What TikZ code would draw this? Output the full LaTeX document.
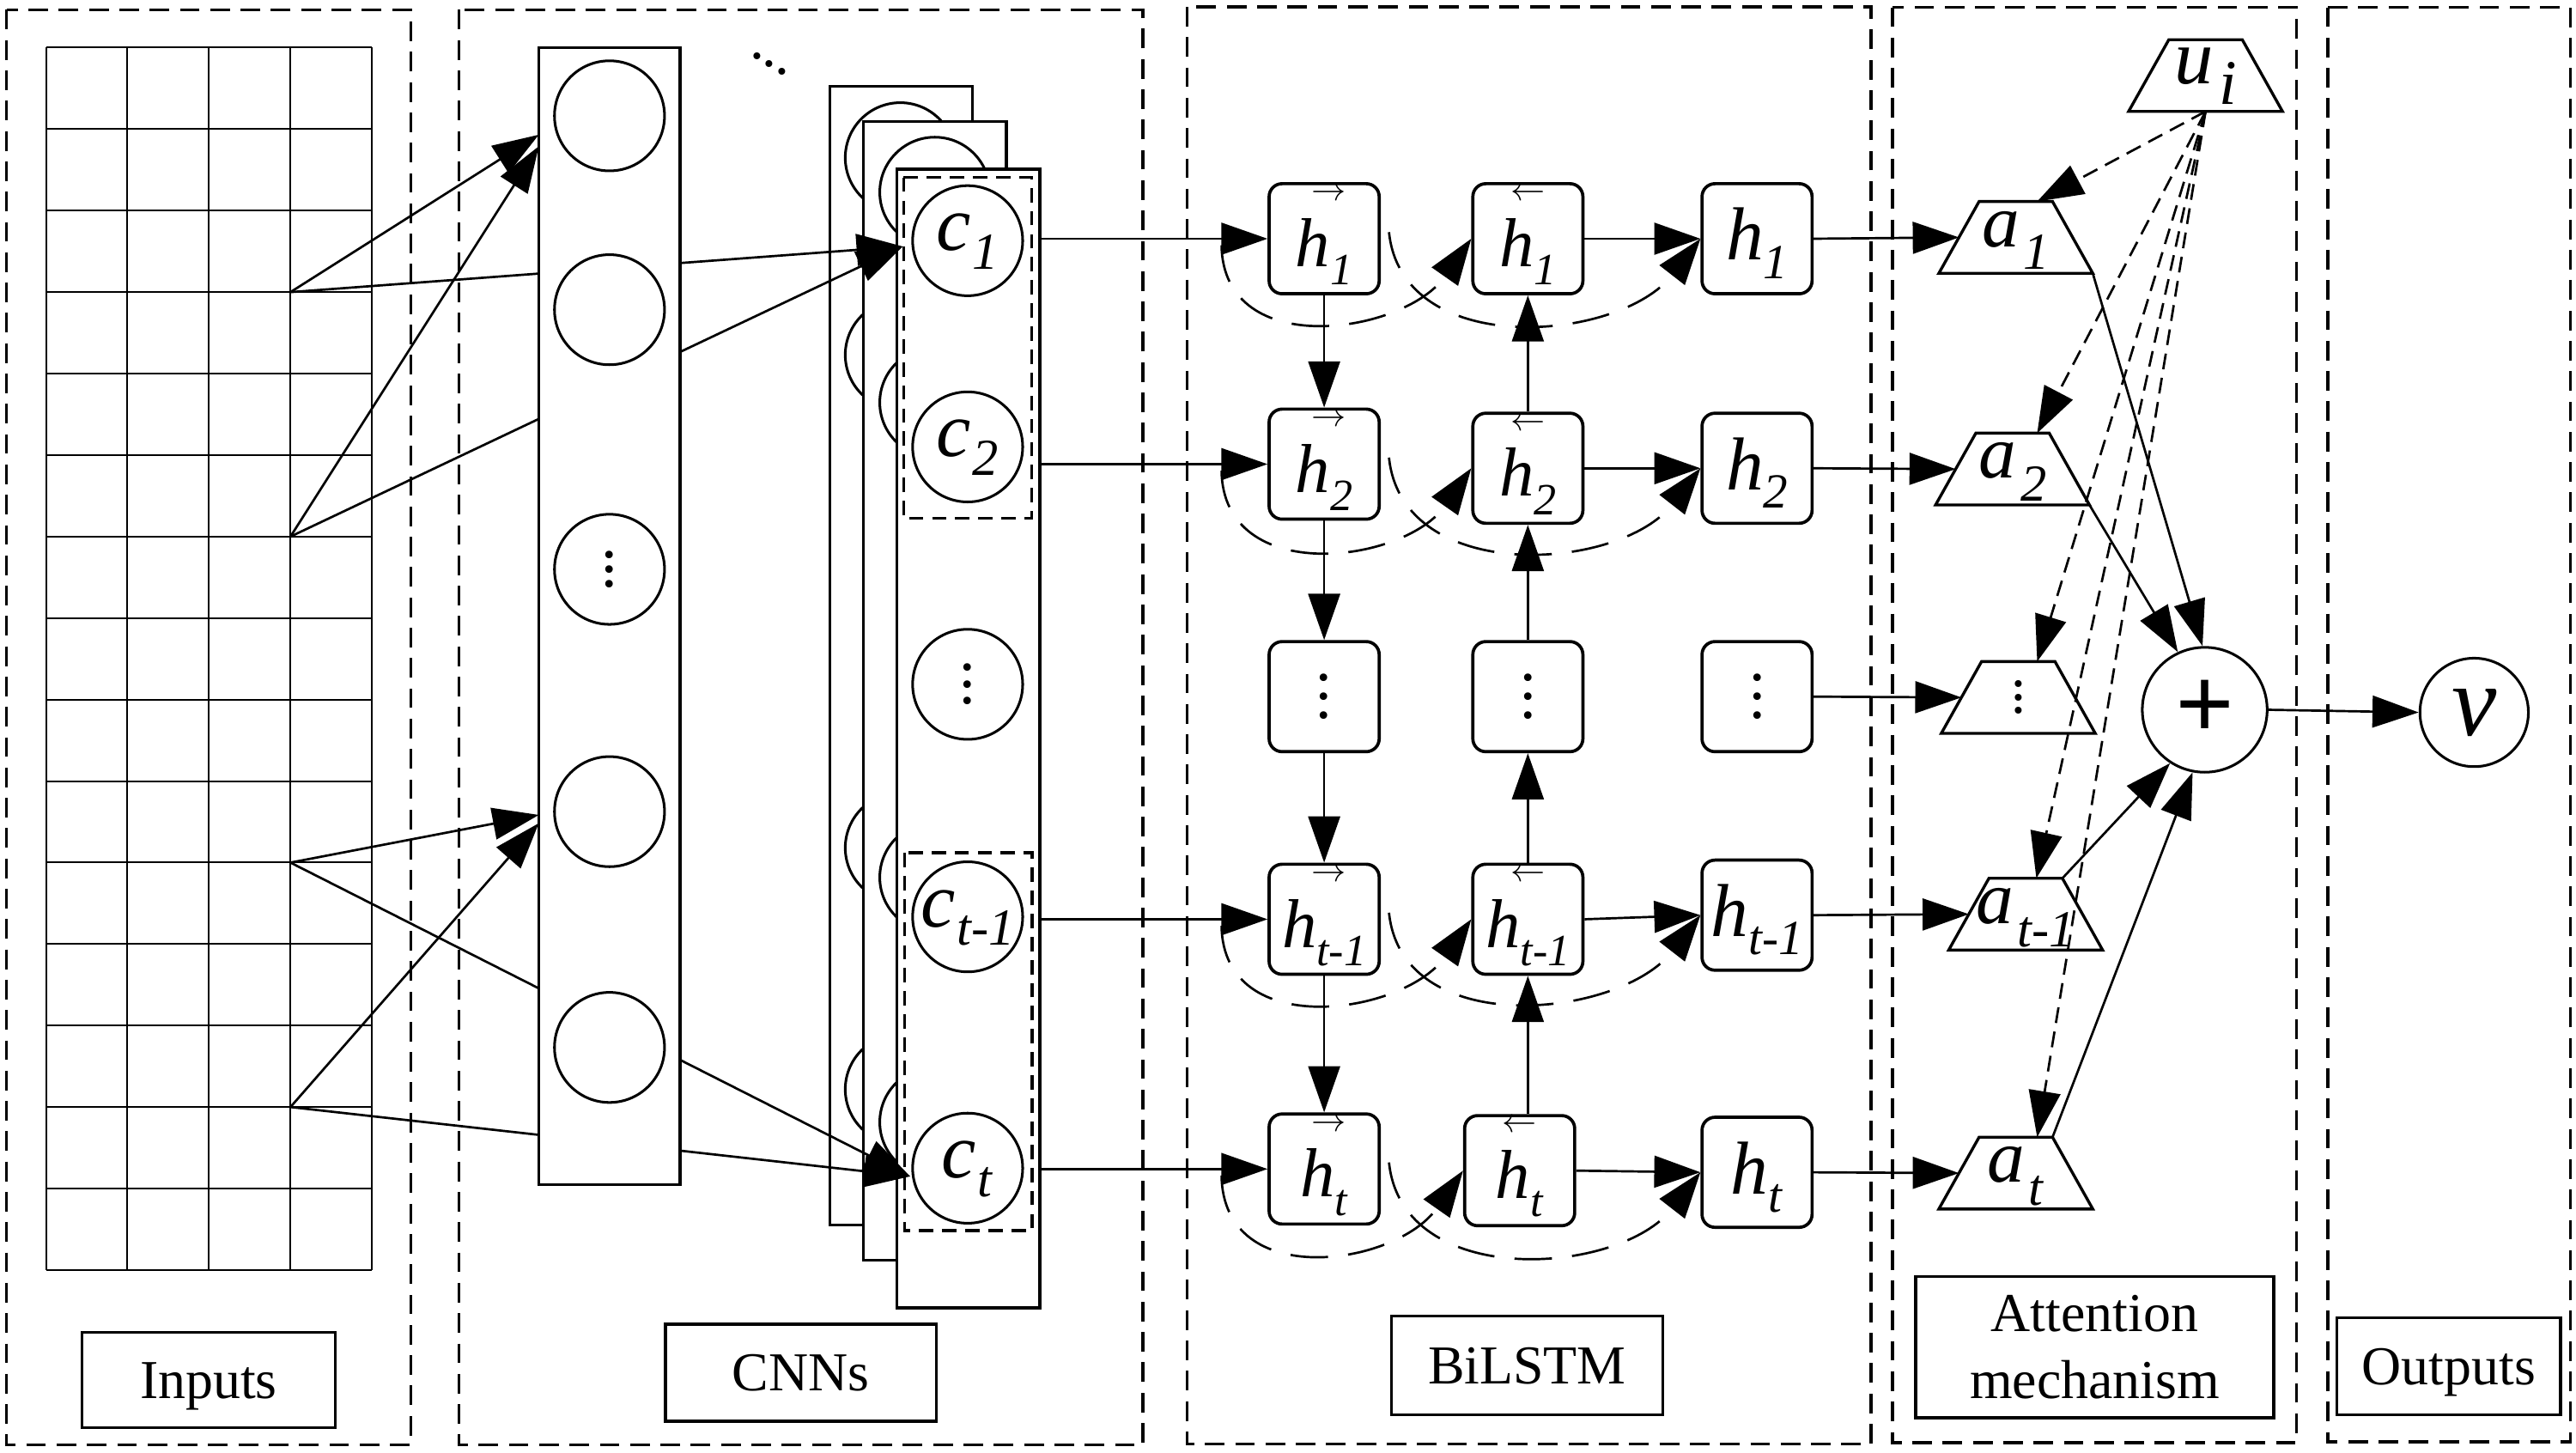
\documentclass[tikz,border=0pt]{standalone}
\usepackage{fontspec}
\setmainfont{Liberation Serif}
\usepackage{graphicx}
\usetikzlibrary{arrows.meta,calc}
\newcommand\fsz[1]{\fontsize{#1}{#1}\selectfont}
\newcommand\hab[1]{{\fsz{24}\textit{h}\raisebox{-6.3pt}{\fsz{15.5}\textit{#1}}}}
\newcommand\hcc[1]{{\fsz{26}\textit{h}\raisebox{-6.3pt}{\fsz{17}\textit{#1}}}}
\newcommand\cvar[1]{{\fsz{27}\textit{c}\kern0.5pt\raisebox{-6.4pt}{\fsz{18}\textit{#1}}}}
\newcommand\avar[1]{{\fsz{26}\textit{a}\kern1.5pt\raisebox{-8pt}{\fsz{18}\textit{#1}}}}
\newcommand\vdts[2]{{\fsz{#1}\vbox{\baselineskip=#2\lineskiplimit=-100pt\hbox{.}\hbox{.}\hbox{.}}}}
\newcommand\trapz[1]{\draw[tline] (#1.south west) -- (#1.south east) -- ($(#1.north east)+(-24.5,0)$) -- ($(#1.north west)+(24.5,0)$) -- cycle;}
\def\dpx{0.02cm}
\tikzset{
 arr/.style={line width=0.8pt,-{Triangle[length=16pt,width=11pt]}},
 darr/.style={arr,dash pattern=on 5.5pt off 3pt},
 lstmarc/.style={arr,dash pattern=on 13pt off 7pt},
 panel/.style={line width=1pt,dash pattern=on 6.8pt off 3.7pt},
 gdash/.style={line width=1pt,dash pattern=on 5pt off 3pt},
 gridln/.style={line width=0.6pt},
 tline/.style={line width=1pt},
 lbox/.style={draw,line width=1pt,inner sep=0pt,font={\fsz{19}}},
 lboxc/.style={lbox,text height=12.6pt,text depth=0pt},
 colbox/.style={draw,line width=1pt,fill=white,inner sep=0pt,minimum width=86*\dpx,minimum height=692*\dpx},
 mapbox/.style={draw,line width=1pt,fill=white,inner sep=0pt,minimum width=87*\dpx,minimum height=693*\dpx},
 neuron/.style={draw,circle,line width=0.9pt,fill=white,inner sep=0pt,minimum size=67*\dpx},
 cnode/.style={neuron,text height=8pt,text depth=1.2pt},
 cellbox/.style={draw,rounded corners=4.5pt,line width=1.1pt,inner sep=0pt,minimum width=67*\dpx,minimum height=67*\dpx},
 habox/.style={cellbox,text height=19.4pt,text depth=0pt},
 hcbox/.style={cellbox,text height=15pt,text depth=0.2pt},
 fwd/.style={habox,label={[anchor=center,inner sep=0pt,xshift=0.06cm,yshift=-0.15cm]90:\resizebox{0.42cm}{!}{$\rightarrow$}}},
 bwd/.style={habox,label={[anchor=center,inner sep=0pt,yshift=-0.15cm]90:\resizebox{0.42cm}{!}{$\leftarrow$}}},
 trap/.style={inner sep=0pt,minimum width=93*\dpx,minimum height=43*\dpx},
}
\begin{document}
\begin{tikzpicture}[x=0.02cm,y=-0.02cm]
\fill[white] (0,0) rectangle (1568,884.35);
\useasboundingbox (0,0) rectangle (1568,884.35);
% panels
\draw[panel] (4,6) rectangle (250,879.5);
\draw[panel] (279.3,6) rectangle (695.7,879.5);
\draw[panel] (722.7,4.2) rectangle (1138.8,879);
\draw[panel] (1152,4.5) rectangle (1398,878);
\draw[panel] (1417,4.5) rectangle (1564.5,877.6);
% label boxes
\node[lboxc,minimum width=154*\dpx,minimum height=58*\dpx] (linp) at (127,840) {Inputs};
\node[lboxc,minimum width=165*\dpx,minimum height=59*\dpx] (lcnn) at (487.5,835.5) {CNNs};
\node[lboxc,minimum width=165*\dpx,minimum height=60*\dpx] (llstm) at (929.5,831) {BiLSTM};
\node[lbox,minimum width=218*\dpx,minimum height=86*\dpx,align=center,font={\fontsize{19}{23.3}\selectfont}] (latt) at (1275,820) {Attention\\mechanism};
\node[lboxc,minimum width=136*\dpx,minimum height=59*\dpx] (lout) at (1490.5,831.5) {Outputs};
% grid
\foreach \i in {0,...,4} \draw[gridln] ({28+49.6*\i},29) -- ({28+49.6*\i},773);
\foreach \j in {0,...,15} \draw[gridln] (28,{29+49.6*\j}) -- (226.4,{29+49.6*\j});
\coordinate (p1) at (176.8,177.8);
\coordinate (p2) at (176.8,326.6);
\coordinate (p3) at (176.8,525);
\coordinate (p4) at (176.8,673.8);
% feature maps
\node[mapbox] (back) at (548.5,399) {};
\foreach \y [count=\k] in {96,216,516,663} \node[neuron] (bk\k) at (548,\y) {};
\node[mapbox] (mid) at (569,420.5) {};
\foreach \y [count=\k] in {117,245,534,683} \node[neuron] (mk\k) at (569,\y) {};
\node[mapbox] (front) at (589.5,449.5) {};
\node[cnode] (c1) at (589,146.5) {\cvar{1}};
\node[cnode] (c2) at (589,272) {\cvar{2}};
\node[neuron] (cd) at (589,416.5) {\vdts{22}{5.8pt}};
\node[cnode] (ct1) at (589,558) {\cvar{t-1}};
\node[cnode] (ct) at (589,711) {\cvar{t}};
\draw[gdash] (550,108) rectangle (628,315.5);
\draw[gdash] (550.5,519) rectangle (628.3,749);
\node[inner sep=0pt] (ddots) at (468.5,39) {\fsz{20}.\kern-0.7pt\raisebox{-2.6pt}{.}\kern-0.7pt\raisebox{-5.2pt}{.}};
% CNN connections
\coordinate (e1) at (328,82);
\coordinate (e2) at (328,89);
\coordinate (e3) at (328,496);
\coordinate (e4) at (328,501);
\coordinate (c1in) at (549.5,150);
\coordinate (ctin) at (554,716);
\draw[arr] (p1) -- (c1in);
\draw[arr] (p2) -- (c1in);
\draw[arr] (p3) -- (ctin);
\draw[arr] (p4) -- (ctin);
\draw[arr] (p1) -- (e1);
\draw[arr] (p2) -- (e2);
\draw[arr] (p3) -- (e3);
\draw[arr] (p4) -- (e4);
% first conv column
\node[colbox] (col1) at (371,375) {};
\node[neuron] (n1) at (371,70.5) {};
\node[neuron] (n2) at (371,188.5) {};
\node[neuron] (n3) at (371,346.5) {\vdts{22}{5pt}};
\node[neuron] (n4) at (371,494) {};
\node[neuron] (n5) at (371,637.5) {};
% BiLSTM cells
\node[fwd] (A1) at (806,145.3) {\hab{1}};
\node[bwd] (B1) at (930,145.3) {\hab{1}};
\node[hcbox] (C1) at (1069.5,145.3) {\hcc{1}};
\node[fwd] (A2) at (806,282.5) {\hab{2}};
\node[bwd] (B2) at (930,285) {\hab{2}};
\node[hcbox] (C2) at (1069.5,285) {\hcc{2}};
\node[cellbox] (A3) at (806,424) {\vdts{22}{6.5pt}};
\node[cellbox] (B3) at (930,424) {\vdts{22}{6.5pt}};
\node[cellbox] (C3) at (1069.5,424) {\vdts{22}{6.5pt}};
\node[fwd] (A4) at (806,559.5) {\hab{t-1}};
\node[bwd] (B4) at (930,559.5) {\hab{t-1}};
\node[hcbox] (C4) at (1069.5,557) {\hcc{t-1}};
\node[fwd] (A5) at (806,711.5) {\hab{t}};
\node[bwd] (B5) at (925,712.5) {\hab{t}};
\node[hcbox] (C5) at (1069.5,713.5) {\hcc{t}};
% inputs to forward cells
\foreach \r in {1,2,4,5} \draw[arr] (front.east |- A\r.west) -- (A\r.west);
% forward chain
\draw[arr] (A1.south) -- (A2.north);
\draw[arr] (A2.south) -- (A3.north);
\draw[arr] (A3.south) -- (A4.north);
\draw[arr] (A4.south) -- (A5.north);
% backward chain
\draw[arr] (B2.north) -- (B1.south);
\draw[arr] (B3.north) -- (B2.south);
\draw[arr] (B4.north) -- (B3.south);
\draw[arr] (B4.south |- B5.north) -- (B4.south);
% backward to output
\foreach \r in {1,2,4,5} \draw[arr] (B\r.east) -- (C\r.west);
% dashed arcs
\foreach \r in {1,2,4,5} {
 \draw[lstmarc] ($(A\r.west)+(-28,4)$) .. controls ($(A\r.west)+(-27,75)$) and ($(B\r.west)+(-40.5,58)$) .. (B\r.west);
 \draw[lstmarc] ($(A\r.east)+(5,-4)$) .. controls ($(A\r.east)+(13,74)$) and ($(C\r.west)+(-49,63)$) .. (C\r.west);
}
% attention
\node[trap,text height=10pt,text depth=4.3pt] (u) at (1342.5,46) {{\fsz{27}\textit{u}\kern2pt\raisebox{-7pt}{\fsz{22}\textit{i}}}};
\node[trap,text height=10pt,text depth=3.7pt] (a1) at (1227,144.5) {\avar{1}};
\node[trap,text height=10pt,text depth=3.7pt] (a2) at (1225,285.5) {\avar{2}};
\node[trap] (ad) at (1228.5,424.5) {\vdts{20}{4.6pt}};
\node[trap,text height=10pt,text depth=3.7pt] (att1) at (1233,556.4) {\avar{t-1}};
\node[trap,text height=10pt,text depth=3.7pt] (att) at (1227,714) {\avar{t}};
\foreach \n in {u,a1,a2,ad,att1,att} {\trapz{\n}}
\foreach \n in {a1,a2,ad,att1,att} \coordinate (\n l) at ($(\n.west)+(12.25,0)$);
\draw[arr] (C1.east) -- (a1l);
\draw[arr] (C2.east) -- (a2l);
\draw[arr] (C3.east) -- (adl);
\draw[arr] (C4.east) -- (att1l);
\draw[arr] (C5.east) -- (attl);
\node[draw,circle,line width=0.9pt,minimum size=76*\dpx,inner sep=0pt,font={\fsz{36}\bfseries}] (plus) at (1342,432) {+};
\node[draw,circle,line width=0.9pt,minimum size=66*\dpx,inner sep=0pt,font={\fsz{35}}] (v) at (1506,433.6) {\textit{v}};
\draw[arr] (a1.south east) -- (plus.92);
\draw[arr] (a2.south east) -- (plus.115);
\draw[arr] ($(att1.north east)+(-24.5,0)$) -- (plus.237);
\draw[arr] ($(att.north east)+(-24.5,0)$) -- (plus.259);
\draw[arr] (plus.east) -- (v.west);
\draw[darr] (u.south) -- ($(a1.north)+(13,0)$);
\draw[darr] (u.south) -- ($(a2.north)+(15,0)$);
\draw[darr] (u.south) -- ($(ad.north)+(11.5,0)$);
\draw[darr] (u.south) -- ($(att1.north)+(6.5,0)$);
\draw[darr] (u.south) -- ($(att.north)+(13,0)$);
\end{tikzpicture}
\end{document}
